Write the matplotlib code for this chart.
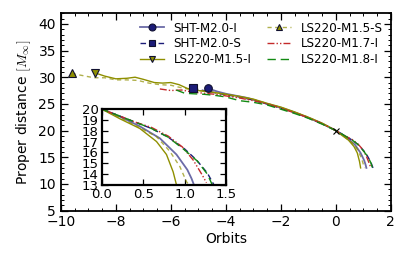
import matplotlib
matplotlib.use("Agg")
import matplotlib.pyplot as plt
from matplotlib.lines import Line2D
from matplotlib.ticker import MultipleLocator

# ---- data (orbits, proper distance) ----
sht_i_x = [-4.65, -4.3, -4.0, -3.6, -3.2, -2.9, -2.5, -2.0, -1.5, -1.0, -0.5, 0.0, 0.22, 0.46, 0.70, 0.90, 1.03, 1.08, 1.11]
sht_i_y = [27.9, 27.3, 26.9, 26.5, 26.1, 25.6, 25.0, 24.3, 23.4, 22.4, 21.3, 20.0, 19.3, 18.4, 17.3, 15.8, 14.4, 13.6, 13.0]

sht_s_x = [-5.2, -4.8, -4.4, -4.0, -3.5, -3.0, -2.5, -2.0, -1.5, -1.0, -0.5, 0.0, 0.2, 0.4, 0.6, 0.8, 1.0, 1.14, 1.27, 1.35]
sht_s_y = [27.9, 27.5, 27.1, 26.7, 26.3, 25.7, 25.0, 24.2, 23.4, 22.4, 21.3, 20.0, 19.4, 18.8, 18.2, 17.4, 16.3, 15.3, 14.1, 13.0]

ls15_i_x = [-8.75, -8.4, -8.0, -7.6, -7.3, -7.0, -6.6, -6.3, -6.0, -5.7, -5.4, -5.0, -4.5, -4.0, -3.5, -3.0, -2.5, -2.0, -1.5, -1.0, -0.5, 0.0, 0.22, 0.46, 0.66, 0.78, 0.86, 0.90]
ls15_i_y = [30.8, 30.2, 29.7, 29.8, 30.0, 29.6, 29.0, 28.9, 29.0, 28.6, 27.9, 27.5, 27.2, 26.8, 26.4, 25.9, 25.1, 24.4, 23.5, 22.5, 21.4, 20.0, 19.1, 18.2, 17.0, 15.8, 14.2, 13.0]

ls15_s_x = [-9.6, -9.2, -8.8, -8.4, -8.0, -7.6, -7.2, -6.8, -6.4, -6.0, -5.6, -5.2, -4.8, -4.4, -4.0, -3.5, -3.0, -2.5, -2.0, -1.5, -1.0, -0.5, 0.0, 0.3, 0.5, 0.66, 0.82, 0.94, 1.02, 1.05]
ls15_s_y = [30.7, 30.3, 29.9, 29.9, 29.5, 29.5, 29.4, 28.9, 28.6, 28.5, 28.0, 27.6, 27.4, 27.1, 26.8, 26.3, 25.8, 25.1, 24.3, 23.4, 22.5, 21.3, 20.0, 18.9, 18.1, 17.45, 16.1, 14.7, 13.3, 13.0]

ls17_i_x = [-6.4, -6.0, -5.6, -5.2, -4.8, -4.4, -4.0, -3.5, -3.0, -2.5, -2.0, -1.5, -1.0, -0.5, 0.0, 0.2, 0.4, 0.6, 0.8, 0.97, 1.1, 1.21, 1.26]
ls17_i_y = [27.8, 27.5, 27.6, 27.2, 27.0, 26.8, 26.5, 26.1, 25.6, 25.0, 24.2, 23.3, 22.4, 21.3, 20.0, 19.4, 18.8, 18.3, 17.5, 16.5, 15.3, 13.9, 13.2]

ls18_i_x = [-5.8, -5.5, -5.2, -4.8, -4.4, -4.0, -3.5, -3.0, -2.5, -2.0, -1.5, -1.0, -0.5, 0.0, 0.2, 0.4, 0.6, 0.8, 1.0, 1.15, 1.27, 1.33]
ls18_i_y = [27.6, 27.0, 26.9, 26.8, 26.6, 26.3, 25.6, 25.3, 24.8, 24.0, 23.2, 22.3, 21.2, 20.0, 19.4, 18.8, 18.2, 17.4, 16.2, 15.2, 14.0, 13.0]

labels = ["SHT-M2.0-I", "SHT-M2.0-S", "LS220-M1.5-I", "LS220-M1.5-S", "LS220-M1.7-I", "LS220-M1.8-I"]
xticks_main = [-10, -8, -6, -4, -2, 0, 2]
yticks_main = [5, 10, 15, 20, 25, 30, 35, 40]
xticks_inset = [0.0, 0.5, 1.0, 1.5]
yticks_inset = [13, 14, 15, 16, 17, 18, 19, 20]

NAVY = "#1c1c78"
OLIVE = "#8f8f00"
RED = "#c42a2a"
GREEN = "#138a13"

series = [
    dict(x=sht_i_x, y=sht_i_y, color=NAVY, ls="-", lw=1.3, alpha=0.65, marker="o", mfc=NAVY),
    dict(x=sht_s_x, y=sht_s_y, color=NAVY, ls=(0, (4, 2.5)), lw=1.0, alpha=1.0, marker="s", mfc=NAVY),
    dict(x=ls15_i_x, y=ls15_i_y, color=OLIVE, ls="-", lw=1.0, alpha=1.0, marker="v", mfc=OLIVE),
    dict(x=ls15_s_x, y=ls15_s_y, color=OLIVE, ls=(0, (3, 2.5)), lw=1.0, alpha=0.7, marker="^", mfc=OLIVE),
    dict(x=ls17_i_x, y=ls17_i_y, color=RED, ls=(0, (5, 1.5, 1, 1.5, 1, 1.5)), lw=1.0, alpha=1.0, marker=None, mfc=None),
    dict(x=ls18_i_x, y=ls18_i_y, color=GREEN, ls=(0, (6, 3.5)), lw=1.0, alpha=1.0, marker=None, mfc=None),
]

plt.rcParams["font.family"] = "DejaVu Sans"
plt.rcParams["mathtext.fontset"] = "cm"

fig = plt.figure(figsize=(4.11, 2.54), dpi=100)
ax = fig.add_axes([0.148, 0.171, 0.803, 0.777])

for s in series:
    ax.plot(s["x"], s["y"], color=s["color"], ls=s["ls"], lw=s["lw"], alpha=s["alpha"], zorder=2)
    if s["marker"] is not None:
        ax.plot([s["x"][0]], [s["y"][0]], marker=s["marker"], ms=5.5, mfc=s["mfc"],
                mec="#101030", mew=0.8, ls="none", zorder=4)

ax.plot([0.0], [20.0], marker="x", color="black", ms=4, mew=0.8, ls="none", zorder=5)

leg_handles = []
for s in series:
    line = Line2D([0], [0], color=s["color"], ls=s["ls"], lw=s["lw"], alpha=s["alpha"])
    if s["marker"] is not None:
        mk = Line2D([0], [0], marker=s["marker"], ms=5, mfc=s["mfc"], mec="#101030", mew=0.8, ls="none")
        leg_handles.append((line, mk))
    else:
        leg_handles.append(line)

ax.legend(leg_handles, labels, ncol=2, loc="upper right", frameon=False, fontsize=8.6,
          handlelength=2.0, labelspacing=0.22, columnspacing=1.3, handletextpad=0.8,
          borderaxespad=0.3, bbox_to_anchor=(1.0, 1.0))

ax.set_xlim(-10, 2)
ax.set_ylim(5, 42)
ax.set_xticks(xticks_main)
ax.set_yticks(yticks_main)
ax.set_xticklabels(["\u2212" + str(abs(t)) if t < 0 else str(t) for t in xticks_main])
ax.xaxis.set_minor_locator(MultipleLocator(0.5))
ax.yaxis.set_minor_locator(MultipleLocator(1))
ax.tick_params(which="both", direction="in", top=True, right=True, labelsize=10)
ax.tick_params(which="major", length=5, width=0.9)
ax.tick_params(which="minor", length=2.5, width=0.7)
ax.tick_params(axis="x", pad=3)
for sp in ax.spines.values():
    sp.set_linewidth(1.3)
ax.set_xlabel("Orbits", fontsize=10, labelpad=2)
ax.set_ylabel(r"Proper distance $[M_\infty]$", fontsize=10, labelpad=4)

# inset
axi = fig.add_axes([0.247, 0.272, 0.304, 0.299])
for s in series:
    axi.plot(s["x"], s["y"], color=s["color"], ls=s["ls"], lw=s["lw"], alpha=s["alpha"])
axi.set_xlim(0, 1.5)
axi.set_ylim(13, 20)
axi.set_xticks(xticks_inset)
axi.set_yticks(yticks_inset)
axi.tick_params(which="both", direction="in", top=True, right=True, labelsize=9.5, length=4, width=0.9, pad=2)
for sp in axi.spines.values():
    sp.set_linewidth(1.6)

fig.savefig("out.png", dpi=100)
